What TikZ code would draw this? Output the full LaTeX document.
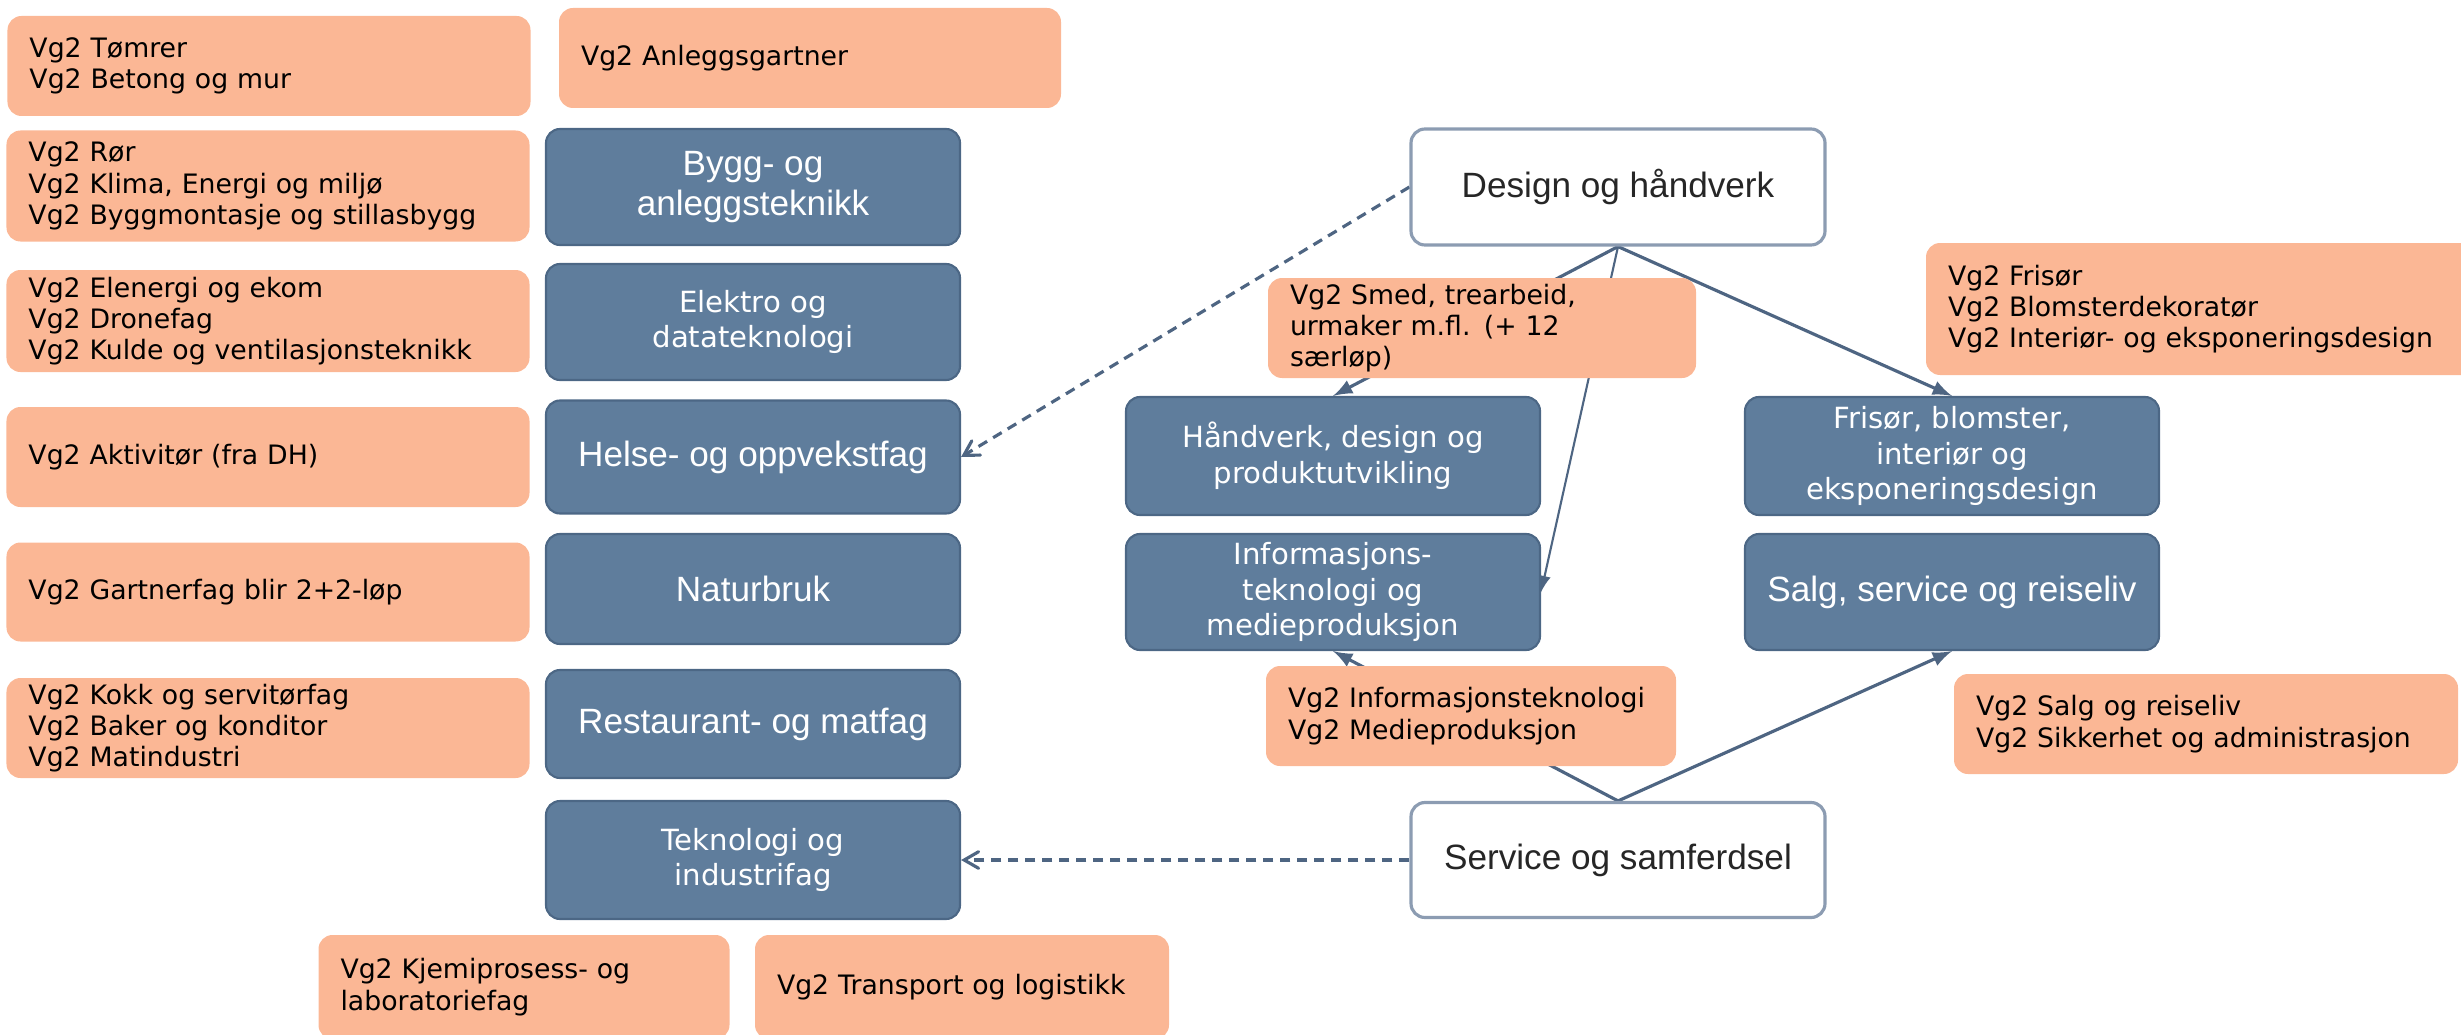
\documentclass[tikz,border=0pt]{standalone}
\usepackage{fontspec}
\setmainfont{DejaVu Sans}
\newfontfamily\robfont{Liberation Sans}
\usetikzlibrary{arrows,backgrounds}
\definecolor{vgorange}{HTML}{FBB795}
\definecolor{progblue}{HTML}{5F7D9C}
\definecolor{progedge}{HTML}{4C6785}
\definecolor{linkcol}{HTML}{4E6582}
\definecolor{startedge}{HTML}{8C9CB2}
\tikzset{
  box/.style = {rounded corners=1.4mm, inner sep=0pt},
  vg_box/.style n args = {2}{box, fill=vgorange, align=left, text=black,
    minimum width=#1mm, text width=#1mm-4.4mm, minimum height=#2mm,
    font=\fontsize{7.6}{8.9}\selectfont},% orange boks, Vg2
  prog_v/.style = {box, fill=progblue, draw=progedge, line width=0.6pt,
    text=white, align=center, minimum width=41.4mm,
    font=\fontsize{8.3}{10.2}\selectfont},% blaa boks, programomraade
  prog_r/.style = {prog_v, font=\robfont\fontsize{10}{11.6}\selectfont},
  start_box/.style = {box, fill=white, draw=startedge, line width=0.9pt,
    text=black!85, align=center, minimum width=41.4mm,
    font=\robfont\fontsize{10}{11.6}\selectfont},
  link/.style = {draw=linkcol, line width=0.9pt, -latex},
  jump/.style = {draw=linkcol, line width=0.9pt,
    dash pattern=on 1mm off 0.7mm, -angle 60}
}
\begin{document}
\begin{tikzpicture}[x=1mm, y=-1mm]
  \useasboundingbox (0,0) rectangle (246.1,103.4);
  % venstre kolonne
  \node [vg_box={52.3}{10.0}] (tomrer) at (26.9,6.6) {Vg2 Tømrer\\Vg2 Betong og mur};
  \node [vg_box={50.2}{10.0}] (anlegg) at (81.0,5.8) {Vg2 Anleggsgartner};
  \node [vg_box={52.3}{11.1}] (ror) at (26.8,18.6)
    {Vg2 Rør\\Vg2 Klima, Energi og miljø\\Vg2 Byggmontasje og stillasbygg};
  \node [prog_r, minimum height=11.6mm] (bygg) at (75.3,18.7) {Bygg- og\\anleggsteknikk};
  \node [vg_box={52.3}{10.2}] (elenergi) at (26.8,32.1)
    {Vg2 Elenergi og ekom\\Vg2 Dronefag\\Vg2 Kulde og ventilasjonsteknikk};
  \node [prog_v, minimum height=11.6mm] (elektro) at (75.3,32.2) {Elektro og\\datateknologi};
  \node [vg_box={52.3}{10.0}] (aktivitor) at (26.8,45.7) {Vg2 Aktivitør (fra DH)};
  \node [prog_r, minimum height=11.3mm] (helse) at (75.3,45.7) {Helse- og oppvekstfag};
  \node [vg_box={52.3}{9.9}] (gartner) at (26.8,59.2) {Vg2 Gartnerfag blir 2+2-løp};
  \node [prog_r, minimum height=11.0mm] (naturbruk) at (75.3,58.9) {Naturbruk};
  \node [vg_box={52.3}{10.0}] (kokk) at (26.8,72.8)
    {Vg2 Kokk og servitørfag\\Vg2 Baker og konditor\\Vg2 Matindustri};
  \node [prog_r, minimum height=10.8mm] (restaurant) at (75.3,72.4) {Restaurant- og matfag};
  \node [prog_v, minimum height=11.8mm] (teknologi) at (75.3,86.0) {Teknologi og\\industrifag};
  \node [vg_box={41.1}{10.4}] (kjemi) at (52.4,98.7) {Vg2 Kjemiprosess- og\\laboratoriefag};
  \node [vg_box={41.4}{10.4}] (transport) at (96.2,98.7) {Vg2 Transport og logistikk};
  % design og haandverk
  \node [start_box, minimum height=11.6mm] (design) at (161.8,18.7) {Design og håndverk};
  \node [vg_box={42.8}{10.0}] (smed) at (148.2,32.8)
    {Vg2 Smed, trearbeid,\\urmaker m.fl. (+ 12\\særløp)};
  \node [vg_box={55.4}{13.2}] (frisorvg) at (220.3,30.9)
    {Vg2 Frisør\\Vg2 Blomsterdekoratør\\Vg2 Interiør- og eksponeringsdesign};
  \node [prog_v, minimum height=11.8mm] (handverk) at (133.3,45.6)
    {Håndverk, design og\\produktutvikling};
  \node [prog_v, minimum height=11.8mm] (frisor) at (195.2,45.6)
    {Frisør, blomster,\\interiør og\\eksponeringsdesign};
  % service og samferdsel
  \node [prog_v, minimum height=11.6mm] (info) at (133.3,59.2)
    {Informasjons-\\teknologi og\\medieproduksjon};
  \node [prog_r, minimum height=11.6mm] (salg) at (195.2,59.2) {Salg, service og reiseliv};
  \node [vg_box={41.0}{10.0}] (infovg) at (147.1,71.6)
    {Vg2 Informasjonsteknologi\\Vg2 Medieproduksjon};
  \node [vg_box={50.4}{10.0}] (salgvg) at (220.6,72.4)
    {Vg2 Salg og reiseliv\\Vg2 Sikkerhet og administrasjon};
  \node [start_box, minimum height=11.5mm] (service) at (161.8,86.0) {Service og samferdsel};
  % piler
  \begin{pgfonlayer}{background}
    \draw [jump] (design.west) -- (helse.east);
    \draw [jump] (service.west) -- (teknologi.east);
    \draw [link] (design.south) -- (handverk.north);
    \draw [link, line width=0.6pt] (design.south) -- (info.east);
    \draw [link] (design.south) -- (frisor.north);
    \draw [link] (service.north) -- (info.south);
    \draw [link] (service.north) -- (salg.south);
  \end{pgfonlayer}
\end{tikzpicture}
\end{document}
